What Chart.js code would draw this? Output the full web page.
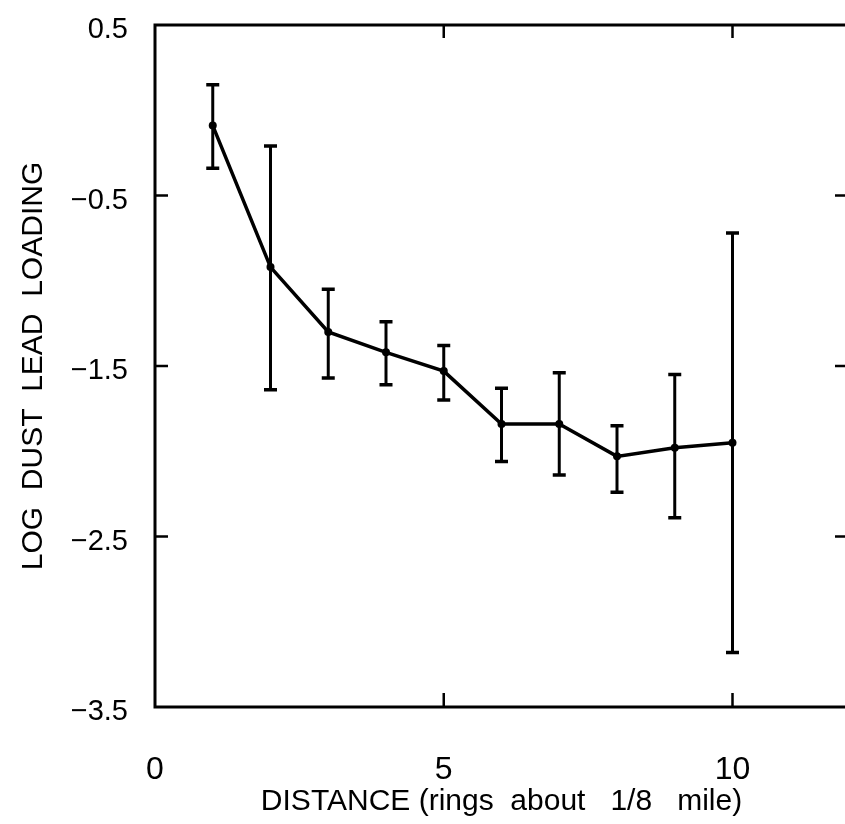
<!DOCTYPE html>
<html>
<head>
<meta charset="utf-8">
<script src="https://cdn.jsdelivr.net/npm/chart.js@4.4.1/dist/chart.umd.min.js"></script>
<style>
  html, body { margin: 0; padding: 0; background: #fff; overflow: hidden; }
  #wrap { width: 852px; height: 824px; }
</style>
</head>
<body>
<div id="wrap"><canvas id="chart" width="852" height="824"></canvas></div>
<script>
// distance rings (1/8 mile each) and log dust lead loading with error bars
const distance   = [1, 2, 3, 4, 5, 6, 7, 8, 9, 10];
const logLoading = [-0.09, -0.92, -1.30, -1.42, -1.53, -1.84, -1.84, -2.03, -1.98, -1.95];
const errHigh    = [0.15, -0.21, -1.05, -1.24, -1.38, -1.63, -1.54, -1.85, -1.55, -0.72];
const errLow     = [-0.34, -1.64, -1.57, -1.61, -1.70, -2.06, -2.14, -2.24, -2.39, -3.18];

const xTicks = [0, 5, 10];
const yTicks = [0.5, -0.5, -1.5, -2.5, -3.5];

const FONT = '"Liberation Sans", Arial, sans-serif';

// box round the plot with small inward ticks, like the old plotting package
const framePlugin = {
  id: 'frame',
  beforeDatasetsDraw(chart) {
    const { ctx, chartArea: a, scales: { x, y } } = chart;
    ctx.save();
    ctx.strokeStyle = '#000';
    ctx.lineWidth = 3;
    ctx.strokeRect(a.left, a.top, a.right - a.left, a.bottom - a.top);
    ctx.lineWidth = 2.5;
    ctx.beginPath();
    yTicks.slice(1, -1).forEach(v => {
      const py = y.getPixelForValue(v);
      ctx.moveTo(a.left, py); ctx.lineTo(a.left + 13, py);
      ctx.moveTo(a.right, py); ctx.lineTo(a.right - 13, py);
    });
    xTicks.slice(1).forEach(v => {
      const px = x.getPixelForValue(v);
      ctx.moveTo(px, a.bottom); ctx.lineTo(px, a.bottom - 14);
      ctx.moveTo(px, a.top); ctx.lineTo(px, a.top + 13);
    });
    ctx.stroke();
    ctx.restore();
  }
};

const errorBarPlugin = {
  id: 'errorBars',
  beforeDatasetsDraw(chart) {
    const { ctx, scales: { x, y } } = chart;
    ctx.save();
    ctx.strokeStyle = '#000';
    distance.forEach((d, i) => {
      const px = x.getPixelForValue(d);
      const hi = y.getPixelForValue(errHigh[i]);
      const lo = y.getPixelForValue(errLow[i]);
      ctx.lineWidth = 3;
      ctx.beginPath();
      ctx.moveTo(px, hi); ctx.lineTo(px, lo);
      ctx.stroke();
      ctx.lineWidth = 3.5;
      ctx.beginPath();
      ctx.moveTo(px - 6.5, hi); ctx.lineTo(px + 6.5, hi);
      ctx.moveTo(px - 6.5, lo); ctx.lineTo(px + 6.5, lo);
      ctx.stroke();
    });
    ctx.restore();
  }
};

new Chart(document.getElementById('chart'), {
  type: 'line',
  data: {
    datasets: [{
      data: distance.map((d, i) => ({ x: d, y: logLoading[i] })),
      borderColor: '#000',
      borderWidth: 3.5,
      backgroundColor: '#000',
      pointRadius: 4,
      pointBackgroundColor: '#000',
      pointBorderWidth: 0,
      tension: 0,
    }]
  },
  options: {
    responsive: false,
    animation: false,
    devicePixelRatio: 1,
    layout: { padding: { left: 0, top: 25, right: 1, bottom: 0 } },
    plugins: { legend: { display: false }, tooltip: { enabled: false } },
    scales: {
      x: {
        type: 'linear',
        min: 0,
        max: 12,
        afterBuildTicks: s => { s.ticks = xTicks.map(v => ({ value: v })); },
        afterFit: s => { s.height = 117; s.paddingLeft = 0; s.paddingRight = 0; },
        grid: { display: false, drawTicks: false },
        border: { display: false },
        ticks: { color: '#000', padding: 44, font: { family: FONT, size: 32 } },
        title: {
          display: true,
          text: 'DISTANCE (rings  about   1/8   mile)',
          color: '#000',
          font: { family: FONT, size: 30 },
          padding: { top: 0, bottom: 4 },
        },
      },
      y: {
        min: -3.5,
        max: 0.5,
        afterBuildTicks: s => { s.ticks = yTicks.map(v => ({ value: v })); },
        afterFit: s => { s.width = 155; s.paddingTop = 0; s.paddingBottom = 0; },
        grid: { display: false, drawTicks: false },
        border: { display: false },
        ticks: {
          color: '#000',
          padding: 27,
          labelOffset: 5,
          font: { family: FONT, size: 29 },
          callback: v => String(v).replace('-', '\u2212'),
        },
        title: {
          display: true,
          text: 'LOG  DUST  LEAD  LOADING',
          color: '#000',
          font: { family: FONT, size: 30 },
          padding: { top: 16, bottom: 0 },
        },
      },
    },
  },
  plugins: [framePlugin, errorBarPlugin],
});
</script>
</body>
</html>
